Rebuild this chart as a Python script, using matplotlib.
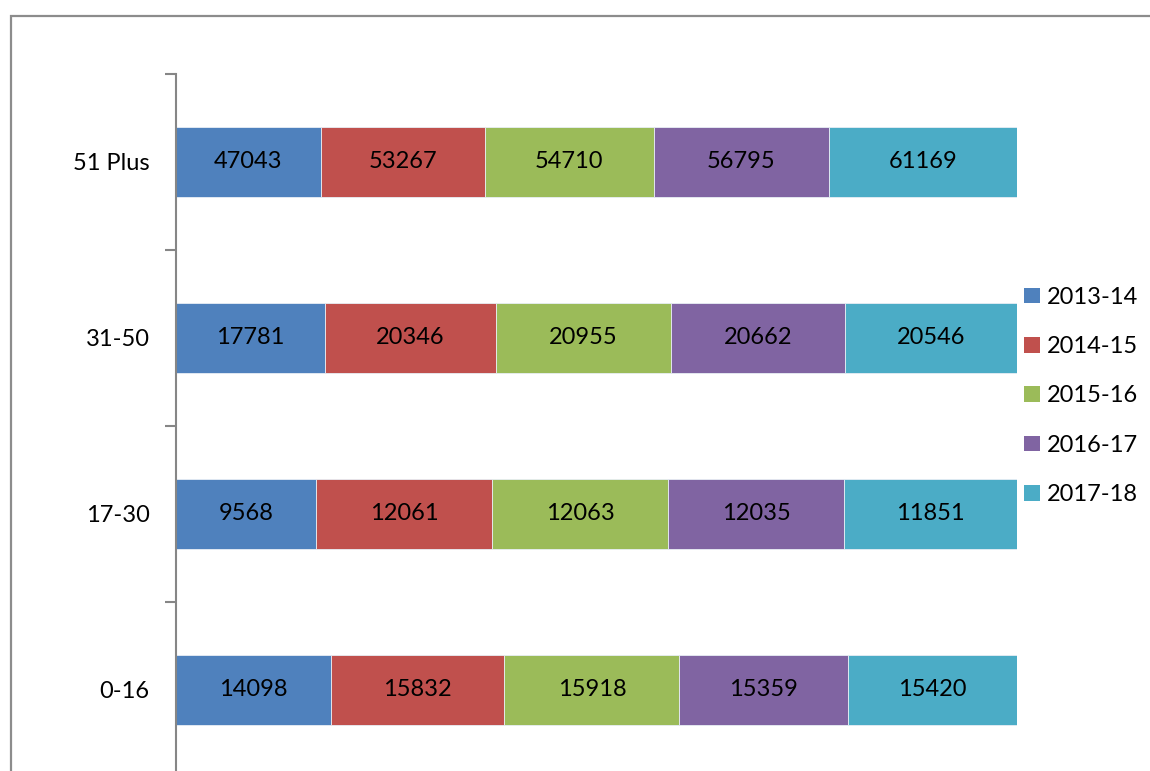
import matplotlib.pyplot as plt
import numpy as np
from matplotlib.patches import Rectangle, Patch

plt.rcParams['font.family'] = ['Lato', 'DejaVu Sans']

groups = ['0-16', '17-30', '31-50', '51 Plus']
years = ['2013-14', '2014-15', '2015-16', '2016-17', '2017-18']
v2013 = [14098, 9568, 17781, 47043]
v2014 = [15832, 12061, 20346, 53267]
v2015 = [15918, 12063, 20955, 54710]
v2016 = [15359, 12035, 20662, 56795]
v2017 = [15420, 11851, 20546, 61169]
colors = ['#4F81BD', '#C0504D', '#9BBB59', '#8064A2', '#4BACC6']

series = np.array([v2013, v2014, v2015, v2016, v2017], dtype=float)
totals = series.sum(axis=0)
shares = series / totals

fig = plt.figure(figsize=(11.5, 7.71), dpi=100)
# outer chart frame (cut off on right and bottom)
fig.patches.append(Rectangle((11 / 1150, -0.1), 1.2, 1 - 16 / 771 + 0.1,
                             transform=fig.transFigure, fill=False,
                             edgecolor='#8c8c8c', linewidth=1.6))

ax = fig.add_axes([176 / 1150, -7 / 771, 841 / 1150, 704 / 771])
y = np.arange(len(groups))
left = np.zeros(len(groups))
for i in range(len(years)):
    ax.barh(y, shares[i], left=left, height=0.4, color=colors[i],
            edgecolor='#e8eef5', linewidth=0.6, label=years[i])
    for j in range(len(groups)):
        ax.text(left[j] + shares[i][j] / 2, y[j], str(int(series[i][j])),
                ha='center', va='center', fontsize=17, color='black')
    left += shares[i]

ax.set_xlim(0, 1)
ax.set_ylim(-0.5, len(groups) - 0.5)
ax.set_yticks(np.arange(-0.5, len(groups), 1))
ax.set_yticklabels([])
ax.set_yticks(y, minor=True)
ax.set_yticklabels(groups, minor=True, fontsize=17)
ax.tick_params(axis='y', which='major', length=8, width=1.5, color='#868686')
ax.tick_params(axis='y', which='minor', length=0, pad=19)
ax.set_xticks([])
for s in ['top', 'right', 'bottom']:
    ax.spines[s].set_visible(False)
ax.spines['left'].set_color('#868686')
ax.spines['left'].set_linewidth(1.5)

handles = [Patch(facecolor=c, edgecolor='none') for c in colors]
fig.legend(handles, years, loc='center left',
           bbox_to_anchor=(1015 / 1150, 1 - 396 / 771), frameon=False,
           fontsize=17, handlelength=0.65, handleheight=0.65,
           handletextpad=0.3, labelspacing=1.2, borderaxespad=0)

fig.savefig('out.png', dpi=100)
